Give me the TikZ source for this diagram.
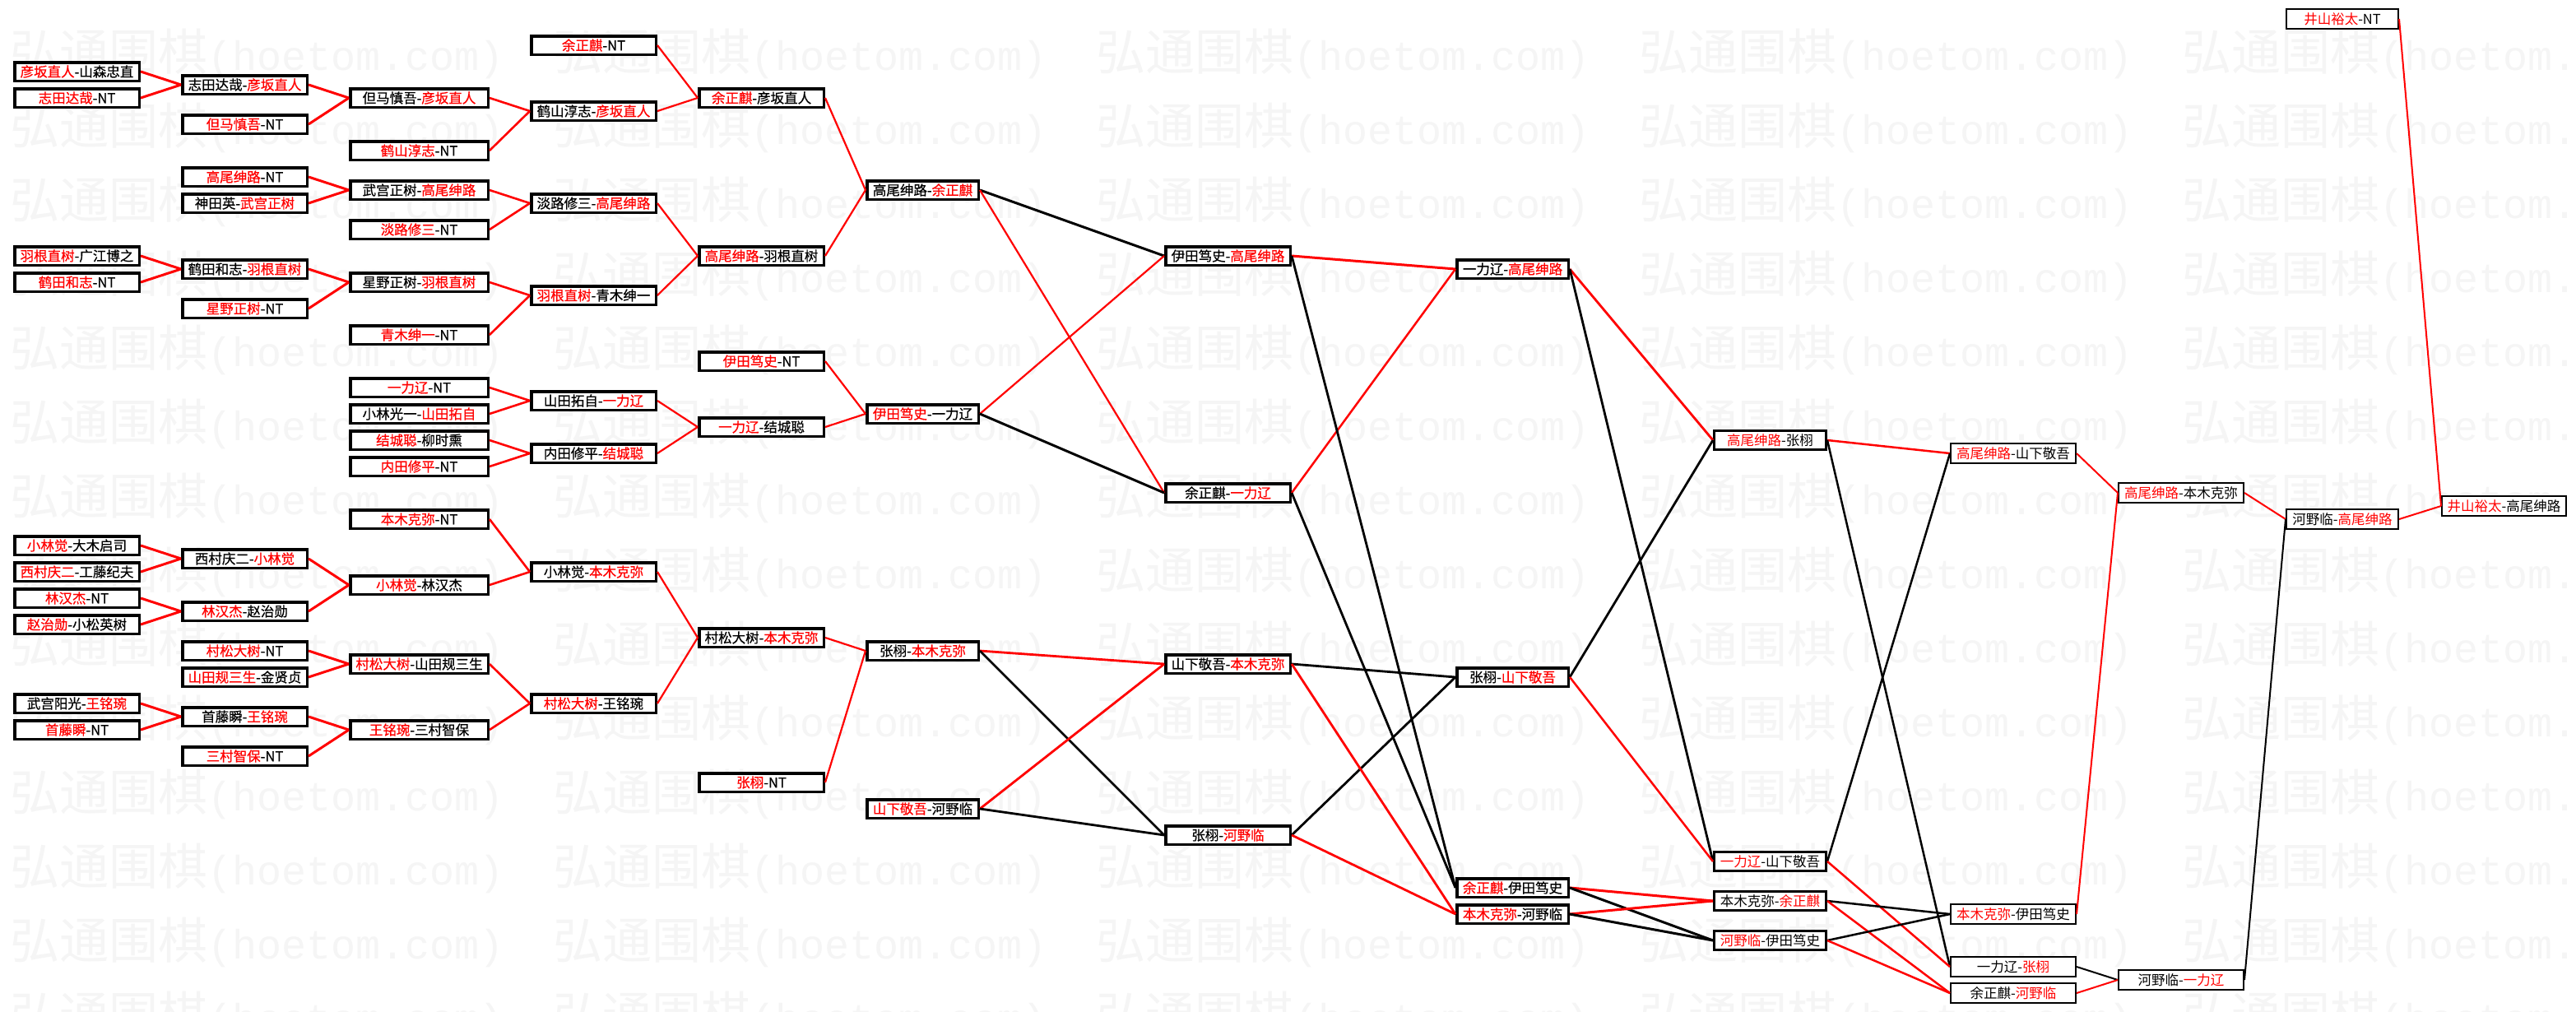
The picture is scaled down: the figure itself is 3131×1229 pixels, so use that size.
\documentclass[tikz,border=0pt]{standalone}
\usepackage{fontspec}
\setmainfont{Noto Sans CJK SC}
\newfontfamily\boldcjk{Noto Sans CJK SC}[FakeBold=0.6]
\newfontfamily\wmlat{Liberation Mono}
\newcommand{\rd}[1]{\textcolor{red}{#1}}
\begin{document}
\begin{tikzpicture}[x=1pt,y=-1pt,
 box/.style={draw=black, fill=white, inner sep=0pt, text=black},
 bL/.style={box, line width=3.5pt, minimum height=22.5pt, font=\boldcjk\fontsize{16.5}{16.5}\selectfont},
 bM/.style={box, line width=2.6pt, minimum height=23.4pt, font=\fontsize{16.5}{16.5}\selectfont},
 bS/.style={box, line width=2pt, minimum height=24pt, font=\fontsize{16.5}{16.5}\selectfont},
 cA/.style={bL, minimum width=151.5pt},
 cB/.style={bL, minimum width=151.5pt},
 cC/.style={bL, minimum width=167.5pt},
 cD/.style={bL, minimum width=151.5pt},
 cE/.style={bL, minimum width=151.5pt},
 cF/.style={bL, minimum width=135.5pt},
 cG/.style={bL, minimum width=151.5pt},
 cH/.style={bL, minimum width=135.5pt},
 cI/.style={bM, minimum width=136.4pt},
 cJ/.style={bS, minimum width=152pt},
 cK/.style={bS, minimum width=152pt},
 cL/.style={bS, minimum width=136pt},
 cM/.style={bS, minimum width=151pt},
 rl/.style={draw=red, line width=#1pt},
 bl/.style={draw=black, line width=#1pt},
 wm/.style={inner sep=0pt, anchor=west, text=black!4, font=\fontsize{60}{60}\selectfont}
]
\path[use as bounding box, fill=white] (0,0) rectangle (3131,1229);
\begin{scope}
\clip (0,0) rectangle (3131,1229);
\foreach \k in {0,...,13} {
  \foreach \m in {0,...,4} {
    \node[wm] (wm-\k-\m) at ({12+660*\m},{65+90*\k}) {弘通围棋{\wmlat\fontsize{50}{50}\selectfont(hoetom.com)}};
  }
}
\end{scope}

% column A
\node[cA] (A1) at (93.5,87) {\rd{彦坂直人}-山森忠直};
\node[cA] (A2) at (93.5,119) {\rd{志田达哉}-NT};
\node[cA] (A3) at (93.5,311) {\rd{羽根直树}-广江博之};
\node[cA] (A4) at (93.5,343) {\rd{鹤田和志}-NT};
\node[cA] (A5) at (93.5,663) {\rd{小林觉}-大木启司};
\node[cA] (A6) at (93.5,695) {\rd{西村庆二}-工藤纪夫};
\node[cA] (A7) at (93.5,727) {\rd{林汉杰}-NT};
\node[cA] (A8) at (93.5,759) {\rd{赵治勋}-小松英树};
\node[cA] (A9) at (93.5,855) {武宫阳光-\rd{王铭琬}};
\node[cA] (A10) at (93.5,887) {\rd{首藤瞬}-NT};
% column B
\node[cB] (B1) at (297.5,103) {志田达哉-\rd{彦坂直人}};
\node[cB] (B2) at (297.5,151) {\rd{但马慎吾}-NT};
\node[cB] (B3) at (297.5,215) {\rd{高尾绅路}-NT};
\node[cB] (B4) at (297.5,247) {神田英-\rd{武宫正树}};
\node[cB] (B5) at (297.5,327) {鹤田和志-\rd{羽根直树}};
\node[cB] (B6) at (297.5,375) {\rd{星野正树}-NT};
\node[cB] (B7) at (297.5,679) {西村庆二-\rd{小林觉}};
\node[cB] (B8) at (297.5,743) {\rd{林汉杰}-赵治勋};
\node[cB] (B9) at (297.5,791) {\rd{村松大树}-NT};
\node[cB] (B10) at (297.5,823) {\rd{山田规三生}-金贤贞};
\node[cB] (B11) at (297.5,871) {首藤瞬-\rd{王铭琬}};
\node[cB] (B12) at (297.5,919) {\rd{三村智保}-NT};
% column C
\node[cC] (C1) at (509.5,119) {但马慎吾-\rd{彦坂直人}};
\node[cC] (C2) at (509.5,183) {\rd{鹤山淳志}-NT};
\node[cC] (C3) at (509.5,231) {武宫正树-\rd{高尾绅路}};
\node[cC] (C4) at (509.5,279) {\rd{淡路修三}-NT};
\node[cC] (C5) at (509.5,343) {星野正树-\rd{羽根直树}};
\node[cC] (C6) at (509.5,407) {\rd{青木绅一}-NT};
\node[cC] (C7) at (509.5,471) {\rd{一力辽}-NT};
\node[cC] (C8) at (509.5,503) {小林光一-\rd{山田拓自}};
\node[cC] (C9) at (509.5,535) {\rd{结城聪}-柳时熏};
\node[cC] (C10) at (509.5,567) {\rd{内田修平}-NT};
\node[cC] (C11) at (509.5,631) {\rd{本木克弥}-NT};
\node[cC] (C12) at (509.5,711) {\rd{小林觉}-林汉杰};
\node[cC] (C13) at (509.5,807) {\rd{村松大树}-山田规三生};
\node[cC] (C14) at (509.5,887) {\rd{王铭琬}-三村智保};
% column D
\node[cD] (D1) at (721.5,55) {\rd{余正麒}-NT};
\node[cD] (D2) at (721.5,135) {鹤山淳志-\rd{彦坂直人}};
\node[cD] (D3) at (721.5,247) {淡路修三-\rd{高尾绅路}};
\node[cD] (D4) at (721.5,359) {\rd{羽根直树}-青木绅一};
\node[cD] (D5) at (721.5,487) {山田拓自-\rd{一力辽}};
\node[cD] (D6) at (721.5,551) {内田修平-\rd{结城聪}};
\node[cD] (D7) at (721.5,695) {小林觉-\rd{本木克弥}};
\node[cD] (D8) at (721.5,855) {\rd{村松大树}-王铭琬};
% column E
\node[cE] (E1) at (925.5,119) {\rd{余正麒}-彦坂直人};
\node[cE] (E2) at (925.5,311) {\rd{高尾绅路}-羽根直树};
\node[cE] (E3) at (925.5,439) {\rd{伊田笃史}-NT};
\node[cE] (E4) at (925.5,519) {\rd{一力辽}-结城聪};
\node[cE] (E5) at (925.5,775) {村松大树-\rd{本木克弥}};
\node[cE] (E6) at (925.5,951) {\rd{张栩}-NT};
% column F
\node[cF] (F1) at (1121.5,231) {高尾绅路-\rd{余正麒}};
\node[cF] (F2) at (1121.5,503) {\rd{伊田笃史}-一力辽};
\node[cF] (F3) at (1121.5,791) {张栩-\rd{本木克弥}};
\node[cF] (F4) at (1121.5,983) {\rd{山下敬吾}-河野临};
% column G
\node[cG] (G1) at (1492.5,311) {伊田笃史-\rd{高尾绅路}};
\node[cG] (G2) at (1492.5,599) {余正麒-\rd{一力辽}};
\node[cG] (G3) at (1492.5,807) {山下敬吾-\rd{本木克弥}};
\node[cG] (G4) at (1492.5,1015) {张栩-\rd{河野临}};
% column H
\node[cH] (H1) at (1838.5,327) {一力辽-\rd{高尾绅路}};
\node[cH] (H2) at (1838.5,823) {张栩-\rd{山下敬吾}};
\node[cH] (H3) at (1838.5,1079) {\rd{余正麒}-伊田笃史};
\node[cH] (H4) at (1838.5,1111) {\rd{本木克弥}-河野临};
% column I
\node[cI] (I1) at (2151.5,535) {\rd{高尾绅路}-张栩};
\node[cI] (I2) at (2151.5,1047) {\rd{一力辽}-山下敬吾};
\node[cI] (I3) at (2151.5,1095) {本木克弥-\rd{余正麒}};
\node[cI] (I4) at (2151.5,1143) {\rd{河野临}-伊田笃史};
% column J
\node[cJ] (J1) at (2447,551) {\rd{高尾绅路}-山下敬吾};
\node[cJ] (J2) at (2447,1111) {\rd{本木克弥}-伊田笃史};
\node[cJ] (J3) at (2447,1175) {一力辽-\rd{张栩}};
\node[cJ] (J4) at (2447,1207) {余正麒-\rd{河野临}};
% column K
\node[cK] (K1) at (2651,599) {\rd{高尾绅路}-本木克弥};
\node[cK] (K2) at (2651,1191) {河野临-\rd{一力辽}};
% column L
\node[cL] (L1) at (2847,23) {\rd{井山裕太}-NT};
\node[cL] (L2) at (2847,631) {河野临-\rd{高尾绅路}};
% column M
\node[cM] (M1) at (3043.5,615) {\rd{井山裕太}-高尾绅路};

% connectors A->B, B->C
\foreach \a/\b in {A1/B1,A2/B1,B1/C1,B2/C1,B3/C3,B4/C3,A3/B5,A4/B5,B5/C5,B6/C5,A5/B7,A6/B7,A7/B8,A8/B8,B7/C12,B8/C12,B9/C13,B10/C13,A9/B11,A10/B11,B11/C14,B12/C14}
  \draw[rl=3] (\a.east) -- (\b.west);
% C->D
\foreach \a/\b in {C1/D2,C2/D2,C3/D3,C4/D3,C5/D4,C6/D4,C7/D5,C8/D5,C9/D6,C10/D6,C11/D7,C12/D7,C13/D8,C14/D8}
  \draw[rl=2.6] (\a.east) -- (\b.west);
% D->E, E->F
\foreach \a/\b in {D1/E1,D2/E1,D3/E2,D4/E2,E1/F1,E2/F1,E3/F2,D5/E4,D6/E4,E4/F2,D7/E5,D8/E5,E5/F3,E6/F3}
  \draw[rl=2.2] (\a.east) -- (\b.west);
% F->G
\draw[bl=3] (F1.east) -- (G1.west);
\draw[rl=2.2] (F1.east) -- (G2.west);
\draw[rl=2.2] (F2.east) -- (G1.west);
\draw[bl=3] (F2.east) -- (G2.west);
\draw[rl=2.8] (F3.east) -- (G3.west);
\draw[bl=2.8] (F3.east) -- (G4.west);
\draw[rl=2.8] (F4.east) -- (G3.west);
\draw[bl=2.8] (F4.east) -- (G4.west);
% G->H
\draw[rl=3] (G1.east) -- (H1.west);
\draw[rl=2.5] (G2.east) -- (H1.west);
\draw[bl=2.8] (G1.east) -- (H3.west);
\draw[bl=2.8] (G2.east) -- (H3.west);
\draw[bl=2.8] (G3.east) -- (H2.west);
\draw[bl=2.8] (G4.east) -- (H2.west);
\draw[rl=2.8] (G3.east) -- (H4.west);
\draw[rl=2.8] (G4.east) -- (H4.west);
% H->I
\draw[rl=2.8] (H1.east) -- (I1.west);
\draw[bl=2.8] (H1.east) -- (I2.west);
\draw[bl=2.8] (H2.east) -- (I1.west);
\draw[rl=2.5] (H2.east) -- (I2.west);
\draw[rl=3] (H3.east) -- (I3.west);
\draw[bl=3] (H3.east) -- (I4.west);
\draw[rl=3] (H4.east) -- (I3.west);
\draw[bl=3] (H4.east) -- (I4.west);
% I->J
\draw[rl=2.5] (I1.east) -- (J1.west);
\draw[bl=2.5] (I1.east) -- (J3.west);
\draw[bl=2.5] (I2.east) -- (J1.west);
\draw[rl=2.5] (I2.east) -- (J3.west);
\draw[bl=2.5] (I3.east) -- (J2.west);
\draw[rl=2.5] (I3.east) -- (J4.west);
\draw[bl=2.5] (I4.east) -- (J2.west);
\draw[rl=2.5] (I4.east) -- (J4.west);
% J->K
\draw[rl=2] (J1.east) -- (K1.west);
\draw[rl=2] (J2.east) -- (K1.west);
\draw[bl=2] (J3.east) -- (K2.west);
\draw[rl=2] (J4.east) -- (K2.west);
% K->L
\draw[rl=2] (K1.east) -- (L2.west);
\draw[bl=2] (K2.east) -- (L2.west);
% L->M
\draw[rl=2] (L1.east) -- (M1.west);
\draw[rl=2] (L2.east) -- (M1.west);
\end{tikzpicture}
\end{document}
